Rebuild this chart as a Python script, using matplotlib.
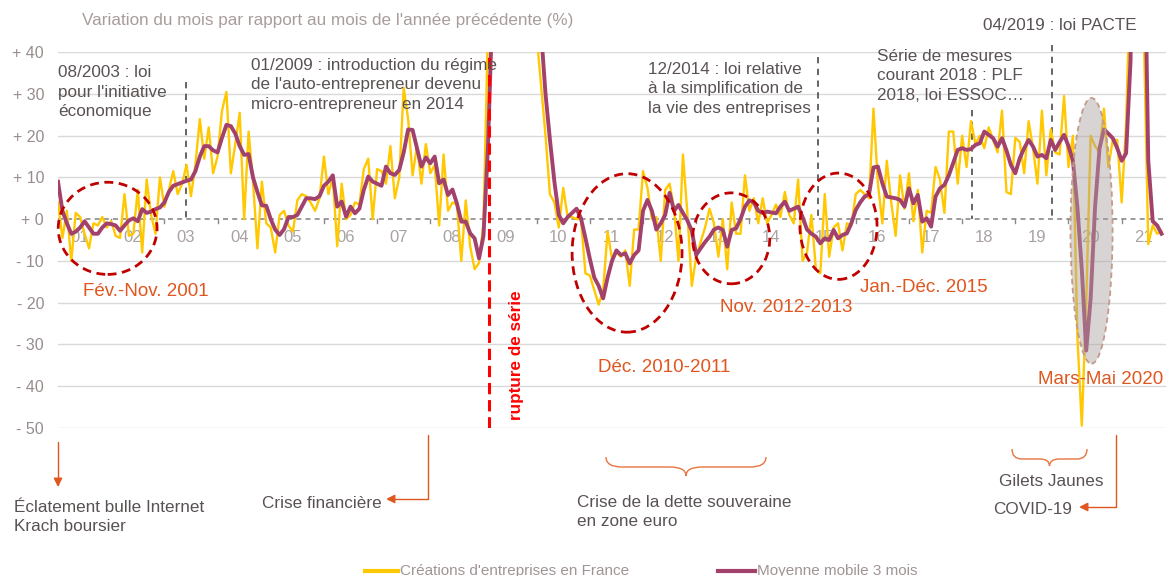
import numpy as np
import matplotlib
matplotlib.use("Agg")
import matplotlib.pyplot as plt
import matplotlib.transforms as mtransforms
from matplotlib.patches import Ellipse, FancyArrowPatch, PathPatch
from matplotlib.path import Path

plt.rcParams["font.family"] = ["Liberation Sans", "DejaVu Sans"]

W, H = 1166, 576

# year-on-year change of monthly business creations (%), Jan 2001 .. Oct 2021
creations = [
    4, -4.5, 2, -10, 1.5, 0.5, -3.5, -7, -1, -1.5, 0.5, -2,            # 2001
    -0.5, -4, -4.5, 6, -4, -3.5, 7, -8, 9.5, 1, -3.5, 10,              # 2002
    3, 7, 11.5, 6, 8.5, 13, 5.5, 13, 24, 14.5, 22, 11,                 # 2003
    15, 26, 30.5, 11, 18, 25.5, 0, 21, 9, -7, 9, -1,                   # 2004
    -2, -8, 1, 2, -1.5, -3, 4.5, 6, 5.5, 4, 2, 5,                      # 2005
    15, 6, 10, -6.5, 8.5, 0, 1, 4, 3.5, 12, 14.5, 0,                   # 2006
    12, 11.5, 8.5, 17.5, 5, 10, 31.5, 24, 10.5, 17.5, 8.5, 18,         # 2007
    11, 13, -1.5, 15.5, 2, 4, 3.5, -10, 4.5, -6.5, -12, -10.5,         # 2008
    -1, 45, 110, 130, 150, 160, 150, 140, 130, 120, 100, 80,           # 2009
    44, 32, 20, 6, 4, -2, 7.5, 0.5, 0.5, 0, 0, -13,                    # 2010
    -13.5, -17, -20.5, -17, -3, -9.5, -8, -9, -7.5, -16, -2.5, -2.5,   # 2011
    11.5, 7.5, 0, 0.5, -10, 7, 8.5, 2.5, -10, 15.5, 1.5, -16,          # 2012
    -9, -5.5, -2, 2.5, -1, -9, 0, -12, 4, -3.5, -3.5, 10.5,            # 2013
    2, 5, -1, 5, -1, 1, 3.5, 0.5, 6.5, 1, -1, 9.5,                     # 2014
    -10, -8, 1, -12, -13, 6, -9, -2, -1, -7.5, -1, -1.5,               # 2015
    6, 7, 6, 5, 26.5, 8.5, -1, 14, 4, -4, 10.5, 2.5,                   # 2016
    11, -0.5, 7, -8, 2, 1.5, 12.5, 9.5, 1.5, 21, 21, 8.5,              # 2017
    20, 12.5, 23.5, 18, 20, 17, 22, 19, 16, 26, 6.5, 6,                # 2018
    19.5, 18.5, 11, 23.5, 17, 8.5, 26, 10.5, 21.5, 16, 15.5, 29.5,     # 2019
    12.5, 20, -28, -49.5, -20, 20, 17.5, 16, 26.5, 12.5, 19, 19,       # 2020
    4, 23, 60, 110, 75, 45, -6, -1.5, -3.5, -3,                        # 2021
]

moyenne_3m = [
    9, 2, -1, -3.5, -3, -2, -0.5, -2, -3.5, -3.5, -2, -1,
    -1.2, -1.5, -2.8, -1.5, -0.3, 0.2, -0.5, 2.4, 1.5, 1.8, 2.4, 2.8,
    4, 6.5, 8, 8.4, 8.8, 9.2, 9.5, 11.5, 15, 17.5, 17.5, 16.5,
    16, 19.5, 22.6, 22.3, 20.5, 17.5, 15.4, 15.6, 10, 6.5, 3.3, 3.2,
    0, -2.5, -3.8, -2.4, 0.5, 0.5, 1, 3, 5, 5, 4.8, 5.5,
    8, 9, 10.5, 3, 4.2, 0.6, 3, 1.4, 2.5, 7, 10.2, 9,
    8.5, 8, 12.6, 11, 10.6, 11.8, 16, 21.5, 21.4, 17, 12.6, 14.8,
    13.4, 15, 8.6, 9.5, 5.8, 7.1, 3.8, -0.6, -0.6, -3.4, -4.6, -9.4,
    -4, 17, 50, 90, 120, 140, 150, 150, 145, 135, 120, 100,
    75, 45, 30, 19, 9, 1, -1, 0.5, 1.5, 2.5, 0.2, -4.5,
    -9.5, -14, -16, -19, -14, -10, -7.5, -8.6, -8.2, -10.6, -8.6, -7.5,
    2, 4.6, 2, -2.5, -1, 1, 6.3, 2, 3.4, 1.5, -0.3, -2.8,
    -8.6, -7, -5.5, -4.2, -2.5, -2, -2.6, -6.6, -2.6, -2.2, 0, 3,
    4.5, 4, 2, 1.5, 1.8, 1.6, 1.4, 3, 4.2, 2, 2.5, 3,
    0.5, -2.5, -3.5, -4.2, -5.8, -4.6, -5, -2.6, -4.6, -3.8, -3.4, -1,
    2.2, 4, 5.4, 6, 12.4, 12.6, 8.6, 5.4, 5.2, 5, 4.6, 3,
    7.4, 3.8, 5.8, -0.6, 0.2, -1.8, 5.4, 7.4, 8.2, 10.5, 13.5, 16.6,
    17, 16.6, 16.8, 17.8, 18.2, 21, 20.2, 19.4, 17.4, 19.4, 16.5, 13,
    11, 14.6, 17, 19, 17.4, 15, 15.4, 14.6, 19, 16.6, 18.5, 20.2,
    17.5, 14, 3, -12, -31.5, -19, 3, 17, 21.5, 20.5, 19.4, 17,
    14, 15.8, 38, 150, 170, 80, 14, -0.5, -1.5, -3.5,
]

year_labels = ["01", "02", "03", "04", "05", "06", "07", "08", "09", "10", "11",
               "12", "13", "14", "15", "16", "17", "18", "19", "20", "21"]
y_ticks = [40, 30, 20, 10, 0, -10, -20, -30, -40, -50]
y_tick_labels = ["+ 40", "+ 30", "+ 20", "+ 10", "+ 0",
                 "- 10", "- 20", "- 30", "- 40", "- 50"]

YELLOW = "#FFC800"
PURPLE = "#A3416D"
DARK_RED = "#C00000"
ORANGE = "#E0561F"
TXT = "#5a5252"
FS = 12.3

fig = plt.figure(figsize=(W / 100, H / 100), dpi=100)
ax = fig.add_axes([58 / W, 1 - 427.7 / H, (W - 58) / W, (427.7 - 52.3) / H])
# transform for positions given in image pixels (origin top-left)
px = mtransforms.Affine2D().scale(1 / W, -1 / H).translate(0, 1) + fig.transFigure

months = np.arange(len(creations))
ax.set_xlim(0, 250)
ax.set_ylim(-50, 40)
for v in y_ticks:
    if v != 0:
        ax.axhline(v, color="#d9d9d9", lw=1, zorder=0)
ax.axhline(0, color="#8a8a8a", lw=1.2, ls=(0, (3, 2.5)), zorder=1)
for k in range(1, len(year_labels)):
    ax.plot([12 * k, 12 * k], [0, -1.0], color="#8a8a8a", lw=1, zorder=1)

ax.plot(months, creations, color=YELLOW, lw=1.7, zorder=3)
ax.plot(months, moyenne_3m, color=PURPLE, lw=2.8, zorder=4)

ax.set_yticks(y_ticks)
ax.set_yticklabels(y_tick_labels, color="#978c8c", fontsize=11.5)
ax.tick_params(axis="y", length=0, pad=10)
ax.set_xticks([])
for s in ax.spines.values():
    s.set_visible(False)
for i, lab in enumerate(year_labels):
    ax.text(12 * i + 4.9, -4.4, lab, ha="center", va="center",
            color="#aaa2a2", fontsize=12, zorder=2)

# rupture de série
ax.axvline(97.2, color="#FF0000", lw=2.2, ls=(0, (3.7, 1.9)), zorder=5)
ax.text(103.5, -32.5, "rupture de série", rotation=90, ha="center", va="center",
        color="#FF0000", fontsize=12.3, fontweight="bold")

# law annotation dashed lines
for xm, ytop in [(28.9, 32.9), (171.4, 38.9), (206.2, 26.2), (224.2, 41.8)]:
    ax.plot([xm, xm], [ytop, 0], color="#595959", lw=1.3, ls=(0, (3.5, 3)),
            zorder=2, clip_on=False)

# red dashed circles
for cx, cy, w, h in [(11.2, -2.2, 22.3, 22.1), (128.4, -8.1, 24.8, 38.0),
                     (151.9, -4.6, 17.4, 21.8), (176.1, -1.7, 17.4, 25.5)]:
    ax.add_patch(Ellipse((cx, cy), w, h, fill=False, ec=DARK_RED, lw=2,
                         ls=(0, (3.2, 2)), zorder=6, clip_on=False))
# covid ellipse
ax.add_patch(Ellipse((233.2, -2.8), 9.5, 63.7, fc="#a9a1a0", alpha=0.45,
                     ec="none", zorder=6))
ax.add_patch(Ellipse((233.2, -2.8), 9.5, 63.7, fill=False, ec="#c49a8a",
                     lw=1.3, ls=(0, (3, 2)), zorder=6))

# texts
fig.text(82, 21, "Variation du mois par rapport au mois de l'année précédente (%)",
         transform=px, color="#a99d9b", fontsize=FS, va="center")
notes = [
    (58, 92, "08/2003 : loi\npour l'initiative\néconomique"),
    (251, 85, "01/2009 : introduction du régime\nde l'auto-entrepreneur devenu\nmicro-entrepreneur en 2014"),
    (648, 89, "12/2014 : loi relative\nà la simplification de\nla vie des entreprises"),
    (877, 76, "Série de mesures\ncourant 2018 : PLF\n2018, loi ESSOC…"),
    (983, 25, "04/2019 : loi PACTE"),
    (14, 517, "Éclatement bulle Internet\nKrach boursier"),
    (262, 504, "Crise financière"),
    (577, 512, "Crise de la dette souveraine\nen zone euro"),
    (993, 510, "COVID-19"),
]
for x, y, s in notes:
    fig.text(x, y, s, transform=px, color=TXT, fontsize=FS, va="center",
             linespacing=1.38)
fig.text(1051, 481, "Gilets Jaunes", transform=px, color=TXT, fontsize=FS,
         va="center", ha="center")

periods = [
    (83, 292, "Fév.-Nov. 2001"),
    (598, 368, "Déc. 2010-2011"),
    (720, 307, "Nov. 2012-2013"),
    (860, 287, "Jan.-Déc. 2015"),
    (1038, 380, "Mars-Mai 2020"),
]
for x, y, s in periods:
    fig.text(x, y, s, transform=px, color=ORANGE, fontsize=13.5, va="center",
             zorder=7)

# arrows
arrows = [
    [(58, 442), (58, 487)],
    [(427.5, 435), (427.5, 499), (386, 499)],
    [(1116, 435), (1116, 507), (1079, 507)],
]
for pts in arrows:
    fig.add_artist(FancyArrowPatch(path=Path(pts), transform=px,
                                   arrowstyle="-|>", mutation_scale=13,
                                   color=ORANGE, lw=1, shrinkA=0, shrinkB=0))


def brace(x0, x1, ytop, yb, ybot, r):
    xc = (x0 + x1) / 2
    verts = [(x0, ytop), (x0, yb), (x0 + r, yb), (xc - r, yb), (xc, yb), (xc, ybot),
             (xc, yb), (xc + r, yb), (x1 - r, yb), (x1, yb), (x1, ytop)]
    codes = [Path.MOVETO, Path.CURVE3, Path.CURVE3, Path.LINETO, Path.CURVE3,
             Path.CURVE3, Path.CURVE3, Path.CURVE3, Path.LINETO, Path.CURVE3,
             Path.CURVE3]
    fig.add_artist(PathPatch(Path(verts, codes), transform=px, fill=False,
                             ec="#E8743F", lw=1))


brace(606, 766, 457, 467, 476, 16)
brace(1012, 1087, 449, 459, 466, 10)

# legend
fig.add_artist(plt.Line2D([365, 398], [571, 571], transform=px, color=YELLOW, lw=3))
fig.text(400, 571, "Créations d'entreprises en France", transform=px,
         color="#a09494", fontsize=11, va="center")
fig.add_artist(plt.Line2D([718, 755], [571, 571], transform=px, color=PURPLE, lw=3))
fig.text(757, 571, "Moyenne mobile 3 mois", transform=px,
         color="#a09494", fontsize=11, va="center")

fig.savefig("out.png", dpi=100)
